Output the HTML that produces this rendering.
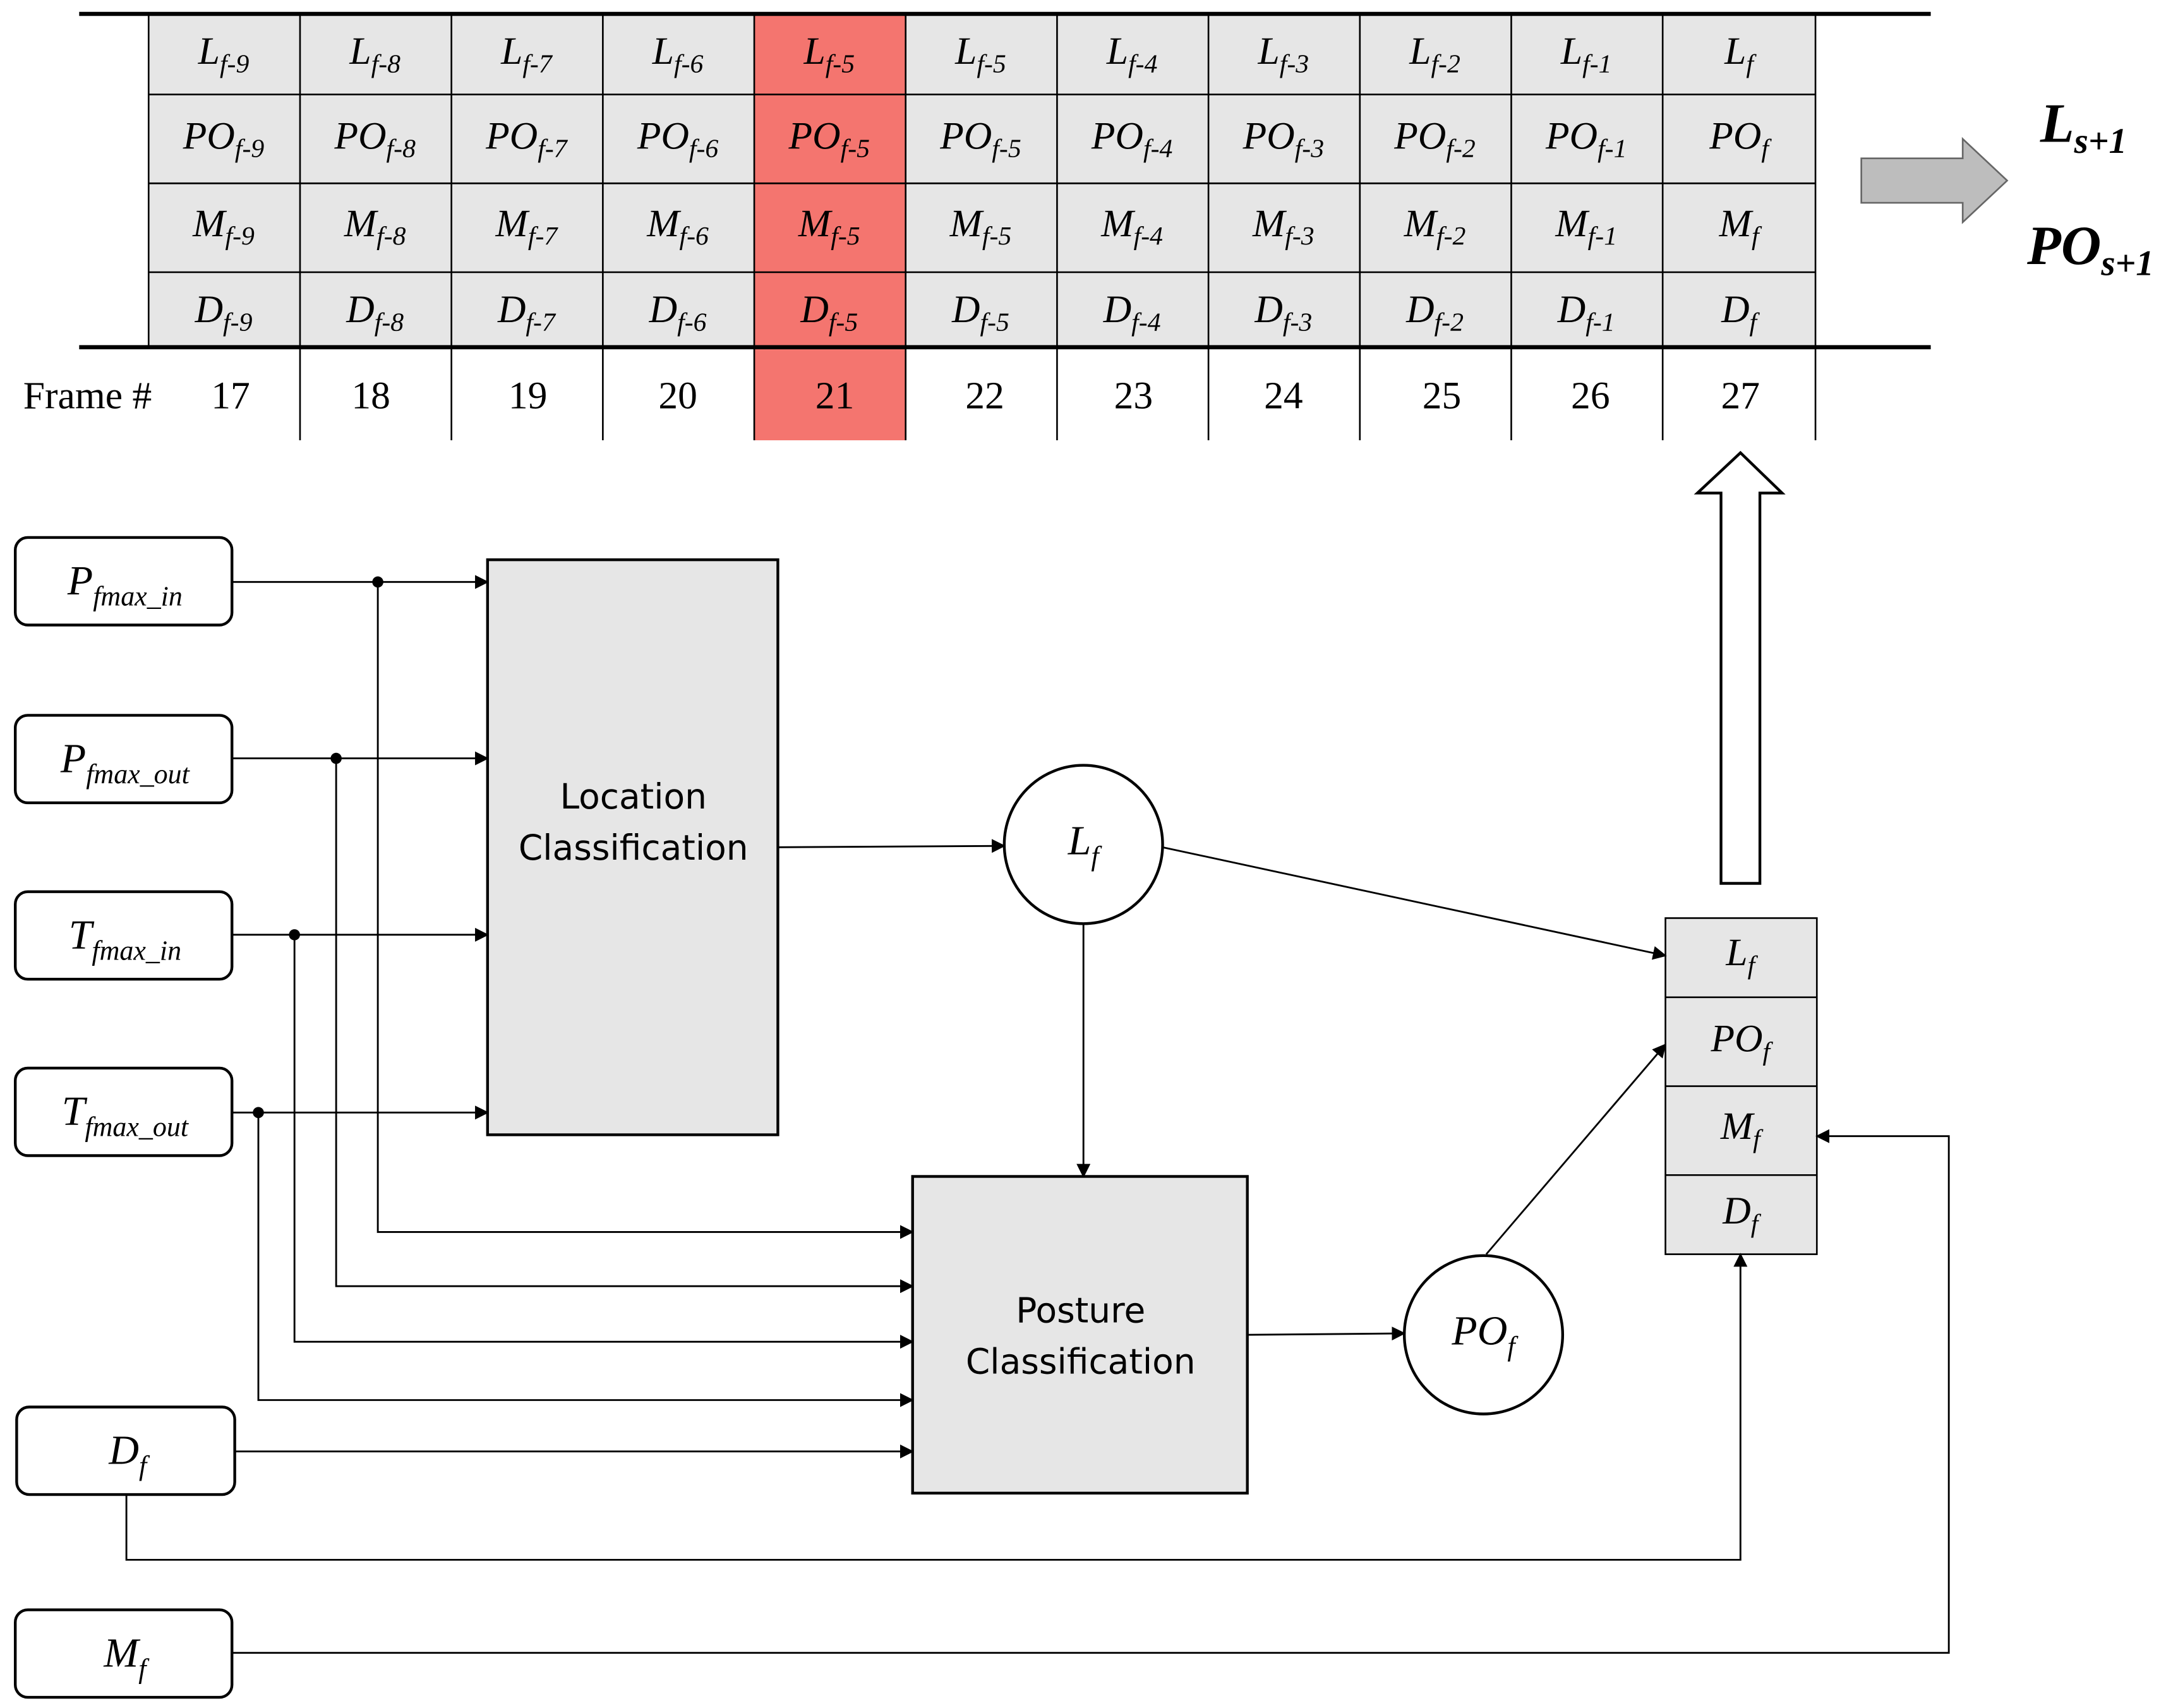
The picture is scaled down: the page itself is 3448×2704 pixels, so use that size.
<!DOCTYPE html>
<html><head><meta charset="utf-8"><style>
html,body{margin:0;padding:0;background:#fff}
svg{display:block}
.t{font-family:"Liberation Serif",serif;font-style:italic;fill:#000}
.n{font-family:"Liberation Serif",serif;fill:#000}
.s{font-family:"DejaVu Sans","Liberation Sans",sans-serif;fill:#000}
</style></head><body>
<svg width="3448" height="2704" viewBox="0 0 1568 1229.7" preserveAspectRatio="none" xmlns="http://www.w3.org/2000/svg">
<defs>
<marker id="a" markerWidth="10" markerHeight="10" refX="9" refY="5" orient="auto" markerUnits="userSpaceOnUse" viewBox="0 0 10 10">
<path d="M0,0 L10,5 L0,10 z" fill="#000"/></marker>
</defs>
<rect x="107" y="10" width="1200" height="240" fill="#e6e6e6"/>
<rect x="543" y="10" width="109" height="307" fill="#f4756f"/>
<g stroke="#000" stroke-width="1.2">
<line x1="107" y1="68" x2="1307" y2="68"/>
<line x1="107" y1="132" x2="1307" y2="132"/>
<line x1="107" y1="196" x2="1307" y2="196"/>
<line x1="107" y1="10" x2="107" y2="250"/>
<line x1="216" y1="10" x2="216" y2="317"/><line x1="325" y1="10" x2="325" y2="317"/>
<line x1="434" y1="10" x2="434" y2="317"/><line x1="543" y1="10" x2="543" y2="317"/>
<line x1="652" y1="10" x2="652" y2="317"/><line x1="761" y1="10" x2="761" y2="317"/>
<line x1="870" y1="10" x2="870" y2="317"/><line x1="979" y1="10" x2="979" y2="317"/>
<line x1="1088" y1="10" x2="1088" y2="317"/><line x1="1197" y1="10" x2="1197" y2="317"/>
<line x1="1307" y1="10" x2="1307" y2="317"/>
</g>
<line x1="57" y1="10" x2="1390" y2="10" stroke="#000" stroke-width="3"/>
<line x1="57" y1="250" x2="1390" y2="250" stroke="#000" stroke-width="3"/>
<g class="t" font-size="28" text-anchor="middle">
<text x="161" y="46">L<tspan font-size="19" dy="6">f-9</tspan></text>
<text x="270" y="46">L<tspan font-size="19" dy="6">f-8</tspan></text>
<text x="379" y="46">L<tspan font-size="19" dy="6">f-7</tspan></text>
<text x="488" y="46">L<tspan font-size="19" dy="6">f-6</tspan></text>
<text x="597" y="46">L<tspan font-size="19" dy="6">f-5</tspan></text>
<text x="706" y="46">L<tspan font-size="19" dy="6">f-5</tspan></text>
<text x="815" y="46">L<tspan font-size="19" dy="6">f-4</tspan></text>
<text x="924" y="46">L<tspan font-size="19" dy="6">f-3</tspan></text>
<text x="1033" y="46">L<tspan font-size="19" dy="6">f-2</tspan></text>
<text x="1142" y="46">L<tspan font-size="19" dy="6">f-1</tspan></text>
<text x="1252" y="46">L<tspan font-size="19" dy="6">f</tspan></text>
<text x="161" y="107">PO<tspan font-size="19" dy="6">f-9</tspan></text>
<text x="270" y="107">PO<tspan font-size="19" dy="6">f-8</tspan></text>
<text x="379" y="107">PO<tspan font-size="19" dy="6">f-7</tspan></text>
<text x="488" y="107">PO<tspan font-size="19" dy="6">f-6</tspan></text>
<text x="597" y="107">PO<tspan font-size="19" dy="6">f-5</tspan></text>
<text x="706" y="107">PO<tspan font-size="19" dy="6">f-5</tspan></text>
<text x="815" y="107">PO<tspan font-size="19" dy="6">f-4</tspan></text>
<text x="924" y="107">PO<tspan font-size="19" dy="6">f-3</tspan></text>
<text x="1033" y="107">PO<tspan font-size="19" dy="6">f-2</tspan></text>
<text x="1142" y="107">PO<tspan font-size="19" dy="6">f-1</tspan></text>
<text x="1252" y="107">PO<tspan font-size="19" dy="6">f</tspan></text>
<text x="161" y="170">M<tspan font-size="19" dy="6">f-9</tspan></text>
<text x="270" y="170">M<tspan font-size="19" dy="6">f-8</tspan></text>
<text x="379" y="170">M<tspan font-size="19" dy="6">f-7</tspan></text>
<text x="488" y="170">M<tspan font-size="19" dy="6">f-6</tspan></text>
<text x="597" y="170">M<tspan font-size="19" dy="6">f-5</tspan></text>
<text x="706" y="170">M<tspan font-size="19" dy="6">f-5</tspan></text>
<text x="815" y="170">M<tspan font-size="19" dy="6">f-4</tspan></text>
<text x="924" y="170">M<tspan font-size="19" dy="6">f-3</tspan></text>
<text x="1033" y="170">M<tspan font-size="19" dy="6">f-2</tspan></text>
<text x="1142" y="170">M<tspan font-size="19" dy="6">f-1</tspan></text>
<text x="1252" y="170">M<tspan font-size="19" dy="6">f</tspan></text>
<text x="161" y="232">D<tspan font-size="19" dy="6">f-9</tspan></text>
<text x="270" y="232">D<tspan font-size="19" dy="6">f-8</tspan></text>
<text x="379" y="232">D<tspan font-size="19" dy="6">f-7</tspan></text>
<text x="488" y="232">D<tspan font-size="19" dy="6">f-6</tspan></text>
<text x="597" y="232">D<tspan font-size="19" dy="6">f-5</tspan></text>
<text x="706" y="232">D<tspan font-size="19" dy="6">f-5</tspan></text>
<text x="815" y="232">D<tspan font-size="19" dy="6">f-4</tspan></text>
<text x="924" y="232">D<tspan font-size="19" dy="6">f-3</tspan></text>
<text x="1033" y="232">D<tspan font-size="19" dy="6">f-2</tspan></text>
<text x="1142" y="232">D<tspan font-size="19" dy="6">f-1</tspan></text>
<text x="1252" y="232">D<tspan font-size="19" dy="6">f</tspan></text>
</g>
<g class="n" font-size="28" text-anchor="middle">
<text x="63" y="294">Frame #</text>
<text x="166" y="294">17</text><text x="267" y="294">18</text><text x="380" y="294">19</text>
<text x="488" y="294">20</text><text x="601" y="294">21</text><text x="709" y="294">22</text>
<text x="816" y="294">23</text><text x="924" y="294">24</text><text x="1038" y="294">25</text>
<text x="1145" y="294">26</text><text x="1253" y="294">27</text>
</g>
<path d="M1340,114 L1413,114 L1413,100 L1445,130 L1413,160 L1413,146 L1340,146 Z" fill="#bdbdbd" stroke="#666" stroke-width="1.2"/>
<g class="t" font-size="40" font-weight="bold" text-anchor="middle">
<text x="1500" y="102">L<tspan font-size="26" dy="8">s+1</tspan></text>
<text x="1505" y="190">PO<tspan font-size="26" dy="8">s+1</tspan></text>
</g>
<path d="M1239,636 L1239,355 L1222,355 L1253,326 L1283,355 L1267,355 L1267,636 Z" fill="#fff" stroke="#000" stroke-width="2"/>
<g fill="#fff" stroke="#000" stroke-width="2">
<rect x="11" y="387" width="156" height="63" rx="9"/>
<rect x="11" y="515" width="156" height="63" rx="9"/>
<rect x="11" y="642" width="156" height="63" rx="9"/>
<rect x="11" y="769" width="156" height="63" rx="9"/>
<rect x="12" y="1013" width="157" height="63" rx="9"/>
<rect x="11" y="1159" width="156" height="63" rx="9"/>
</g>
<g class="t" font-size="30" text-anchor="middle">
<text x="90" y="428">P<tspan font-size="20" dy="8">fmax_in</tspan></text>
<text x="90" y="556">P<tspan font-size="20" dy="8">fmax_out</tspan></text>
<text x="90" y="683">T<tspan font-size="20" dy="8">fmax_in</tspan></text>
<text x="90" y="810">T<tspan font-size="20" dy="8">fmax_out</tspan></text>
<text x="92" y="1054">D<tspan font-size="20" dy="8">f</tspan></text>
<text x="90" y="1200">M<tspan font-size="20" dy="8">f</tspan></text>
</g>
<rect x="351" y="403" width="209" height="414" fill="#e6e6e6" stroke="#000" stroke-width="2"/>
<rect x="657" y="847" width="241" height="228" fill="#e6e6e6" stroke="#000" stroke-width="2"/>
<g class="s" font-size="25" text-anchor="middle">
<text x="456" y="582">Location</text><text x="456" y="619">Classification</text>
<text x="778" y="952">Posture</text><text x="778" y="989">Classification</text>
</g>
<circle cx="780" cy="608" r="57" fill="#fff" stroke="#000" stroke-width="2"/>
<circle cx="1068" cy="961" r="57" fill="#fff" stroke="#000" stroke-width="2"/>
<g class="t" font-size="30" text-anchor="middle">
<text x="780" y="615">L<tspan font-size="20" dy="8">f</tspan></text>
<text x="1068" y="968">PO<tspan font-size="20" dy="8">f</tspan></text>
</g>
<rect x="1199" y="661" width="109" height="242" fill="#e6e6e6" stroke="#000" stroke-width="1.2"/>
<g stroke="#000" stroke-width="1.2"><line x1="1199" y1="718" x2="1308" y2="718"/><line x1="1199" y1="782" x2="1308" y2="782"/><line x1="1199" y1="846" x2="1308" y2="846"/></g>
<g class="t" font-size="28" text-anchor="middle">
<text x="1253" y="695">L<tspan font-size="19" dy="6">f</tspan></text>
<text x="1253" y="757">PO<tspan font-size="19" dy="6">f</tspan></text>
<text x="1253" y="820">M<tspan font-size="19" dy="6">f</tspan></text>
<text x="1253" y="881">D<tspan font-size="19" dy="6">f</tspan></text>
</g>
<g stroke="#000" stroke-width="1.3" fill="none" marker-end="url(#a)">
<line x1="167" y1="419" x2="351" y2="419"/>
<line x1="167" y1="546" x2="351" y2="546"/>
<line x1="167" y1="673" x2="351" y2="673"/>
<line x1="167" y1="801" x2="351" y2="801"/>
<polyline points="272,419 272,887 657,887"/>
<polyline points="242,546 242,926 657,926"/>
<polyline points="212,673 212,966 657,966"/>
<polyline points="186,801 186,1008 657,1008"/>
<line x1="169" y1="1045" x2="657" y2="1045"/>
<polyline points="91,1076 91,1123 1253,1123 1253,903"/>
<polyline points="167,1190 1403,1190 1403,818 1308,818"/>
<line x1="560" y1="610" x2="723" y2="609"/>
<line x1="780" y1="665" x2="780" y2="847"/>
<line x1="837" y1="610" x2="1199" y2="688"/>
<line x1="1070" y1="903" x2="1199" y2="752"/>
<line x1="898" y1="961" x2="1011" y2="960"/>
</g>
<g fill="#000"><circle cx="272" cy="419" r="4"/><circle cx="242" cy="546" r="4"/><circle cx="212" cy="673" r="4"/><circle cx="186" cy="801" r="4"/></g>
</svg>
</body></html>
